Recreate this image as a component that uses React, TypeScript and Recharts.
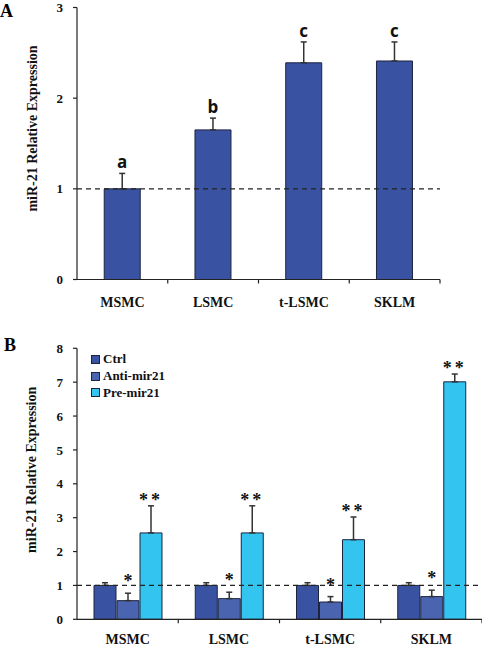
import React from 'react';
import { BarChart, Bar, XAxis, YAxis, ErrorBar, ReferenceLine, LabelList, Legend, Label } from 'recharts';

// ---------- Panel A data ----------
const categoriesA = ['MSMC', 'LSMC', 't-LSMC', 'SKLM'];
const meanA = [1.0, 1.65, 2.39, 2.41];
const errA = [0.17, 0.13, 0.23, 0.21];
const lettersA = ['a', 'b', 'c', 'c'];
const ticksA = [0, 1, 2, 3];

// ---------- Panel B data ----------
const categoriesB = ['MSMC', 'LSMC', 't-LSMC', 'SKLM'];
const seriesB = ['Ctrl', 'Anti-mir21', 'Pre-mir21'];
const ctrlB = [1.0, 1.0, 1.0, 1.0];
const ctrlErrB = [0.08, 0.08, 0.08, 0.08];
const antiB = [0.55, 0.61, 0.51, 0.67];
const antiErrB = [0.22, 0.19, 0.16, 0.19];
const preB = [2.55, 2.55, 2.35, 7.01];
const preErrB = [0.8, 0.8, 0.67, 0.23];
const antiMarksB = ['*', '*', '*', '*'];
const preMarksB = ['**', '**', '**', '**'];
const ticksB = [0, 1, 2, 3, 4, 5, 6, 7, 8];

const dataA = categoriesA.map((c, i) => ({ name: c, value: meanA[i], err: [0, errA[i]] }));
const dataB = categoriesB.map((c, i) => ({
  name: c,
  ctrl: ctrlB[i],
  ctrlErr: [0, ctrlErrB[i]],
  anti: antiB[i],
  antiErr: [0, antiErrB[i]],
  pre: preB[i],
  preErr: [0, preErrB[i]],
}));

const SERIF = '"Liberation Serif", "Times New Roman", serif';
const SANS = '"Open Sans", "Liberation Sans", sans-serif';
const AXIS = '#222';

const CatTick = (props: any) => {
  const { x, y, payload, fallbackHalf, labelDy } = props;
  const off = payload && typeof payload.offset === 'number' && payload.offset > 0 ? payload.offset : fallbackHalf;
  return (
    <g>
      <line x1={x + off} x2={x + off} y1={y} y2={y + 4} stroke={AXIS} strokeWidth={1.2} />
      <text x={x} y={y + labelDy} textAnchor="middle" fontFamily={SERIF} fontWeight="bold" fontSize={14} fill="#111">
        {payload.value}
      </text>
    </g>
  );
};

const makeMark = (marks: string[], means: number[], errs: number[], gap: number, font: string, size: number, spacing: number) =>
  (p: any) => {
    const vb = p.viewBox || p;
    const x = vb.x ?? p.x;
    const y = vb.y ?? p.y;
    const width = vb.width ?? p.width;
    const height = vb.height ?? p.height;
    const i = p.index;
    const v = means[i];
    const pxPer = Math.abs(height) / v;
    const top = Math.min(y, y + height) - errs[i] * pxPer;
    return (
      <text
        key={`m-${i}`}
        x={x + width / 2}
        y={top - gap}
        textAnchor="middle"
        fontFamily={font}
        fontWeight="bold"
        fontSize={size}
        letterSpacing={spacing}
        fill="#111"
      >
        {marks[i]}
      </text>
    );
  };

const yTitle = (dy: number) => (p: any) => {
  const vb = p.viewBox || {};
  const cx = 32;
  const cy = (vb.y ?? 0) + (vb.height ?? 0) / 2 + dy;
  return (
    <text
      x={cx}
      y={cy}
      transform={`rotate(-90, ${cx}, ${cy})`}
      textAnchor="middle"
      dominantBaseline="central"
      fontFamily={SERIF}
      fontWeight="bold"
      fontSize={14}
      fill="#111"
    >
      miR-21 Relative Expression
    </text>
  );
};

const renderLegend = (props: any) => {
  const payload = [...(props.payload || [])].sort(
    (a: any, b: any) => seriesB.indexOf(a.value) - seriesB.indexOf(b.value)
  );
  return (
    <div>
      {payload.map((e: any) => (
        <div key={e.value} style={{ display: 'flex', alignItems: 'center', height: 16.7 }}>
          <span
            style={{
              display: 'inline-block',
              width: 7,
              height: 7,
              background: e.color,
              border: '1px solid #1c2440',
              marginRight: 3,
            }}
          />
          <span style={{ fontFamily: SERIF, fontWeight: 'bold', fontSize: 13, color: '#111', lineHeight: '16px' }}>{e.value}</span>
        </div>
      ))}
    </div>
  );
};

const tickStyle = { fontFamily: SERIF, fontWeight: 'bold', fontSize: 13, fill: '#111' } as any;

export default function App() {
  return (
    <div style={{ position: 'absolute', left: 0, top: 0, width: 482, height: 646, overflow: 'hidden', background: '#fff' }}>
      <div style={{ position: 'absolute', left: 0, top: 1, fontFamily: SERIF, fontWeight: 'bold', fontSize: 18, lineHeight: '20px' }}>A</div>
      <div style={{ position: 'absolute', left: 4, top: 335, fontFamily: SERIF, fontWeight: 'bold', fontSize: 18, lineHeight: '20px' }}>B</div>

      <div style={{ position: 'absolute', left: 0, top: 0 }}>
        <BarChart width={482} height={330} data={dataA} margin={{ top: 7.5, right: 42, bottom: 20.5, left: 0 }} barCategoryGap="30%">
          <XAxis
            dataKey="name"
            height={30}
            tickLine={false}
            tickSize={0}
            tickMargin={0}
            interval={0}
            axisLine={{ stroke: AXIS, strokeWidth: 1.2 }}
            tick={<CatTick fallbackHalf={45.4} labelDy={27} />}
          />
          <YAxis
            width={77}
            domain={[0, 3]}
            ticks={ticksA}
            interval={0}
            tickSize={4}
            tickMargin={10}
            tick={tickStyle}
            axisLine={{ stroke: AXIS, strokeWidth: 1.2 }}
            tickLine={{ stroke: AXIS, strokeWidth: 1.2 }}
          >
            <Label content={yTitle(-15)} />
          </YAxis>
          <Bar dataKey="value" fill="#3a52a2" stroke="#1c2440" strokeWidth={1} isAnimationActive={false}>
            <ErrorBar dataKey="err" width={3} stroke="#333" strokeWidth={1.5} direction="y" />
            <LabelList content={makeMark(lettersA, meanA, errA, 5, SANS, 17, 0)} />
          </Bar>
          <ReferenceLine y={1} stroke="#222" strokeWidth={1.3} strokeDasharray="5 4" />
        </BarChart>
      </div>

      <div style={{ position: 'absolute', left: 0, top: 330 }}>
        <BarChart width={482} height={316} data={dataB} margin={{ top: 18.3, right: 0, bottom: 0, left: 0 }} barCategoryGap={17} barGap={1}>
          <XAxis
            dataKey="name"
            height={26.7}
            tickLine={false}
            tickSize={0}
            tickMargin={0}
            interval={0}
            axisLine={{ stroke: AXIS, strokeWidth: 1.2 }}
            tick={<CatTick fallbackHalf={50.6} labelDy={24.5} />}
          />
          <YAxis
            width={77}
            domain={[0, 8]}
            ticks={ticksB}
            interval={0}
            tickSize={4}
            tickMargin={10}
            tick={tickStyle}
            axisLine={{ stroke: AXIS, strokeWidth: 1.2 }}
            tickLine={{ stroke: AXIS, strokeWidth: 1.2 }}
          >
            <Label content={yTitle(-14)} />
          </YAxis>
          <Legend
            layout="vertical"
            align="center"
            verticalAlign="middle"
            content={renderLegend}
            wrapperStyle={{ left: 91, top: 21, width: 'auto', height: 'auto' }}
          />
          <Bar dataKey="ctrl" name={seriesB[0]} fill="#3a52a2" stroke="#1c2440" strokeWidth={1} isAnimationActive={false}>
            <ErrorBar dataKey="ctrlErr" width={3} stroke="#333" strokeWidth={1.5} direction="y" />
          </Bar>
          <Bar dataKey="anti" name={seriesB[1]} fill="#4a64b0" stroke="#1c2440" strokeWidth={1} isAnimationActive={false}>
            <ErrorBar dataKey="antiErr" width={3} stroke="#333" strokeWidth={1.5} direction="y" />
            <LabelList content={makeMark(antiMarksB, antiB, antiErrB, 6, SERIF, 18, 0)} />
          </Bar>
          <Bar dataKey="pre" name={seriesB[2]} fill="#33c4ef" stroke="#1c2440" strokeWidth={1} isAnimationActive={false}>
            <ErrorBar dataKey="preErr" width={3} stroke="#333" strokeWidth={1.5} direction="y" />
            <LabelList content={makeMark(preMarksB, preB, preErrB, 0, SERIF, 18, 3)} />
          </Bar>
          <ReferenceLine y={1} stroke="#222" strokeWidth={1.3} strokeDasharray="5 4" />
        </BarChart>
      </div>
    </div>
  );
}
